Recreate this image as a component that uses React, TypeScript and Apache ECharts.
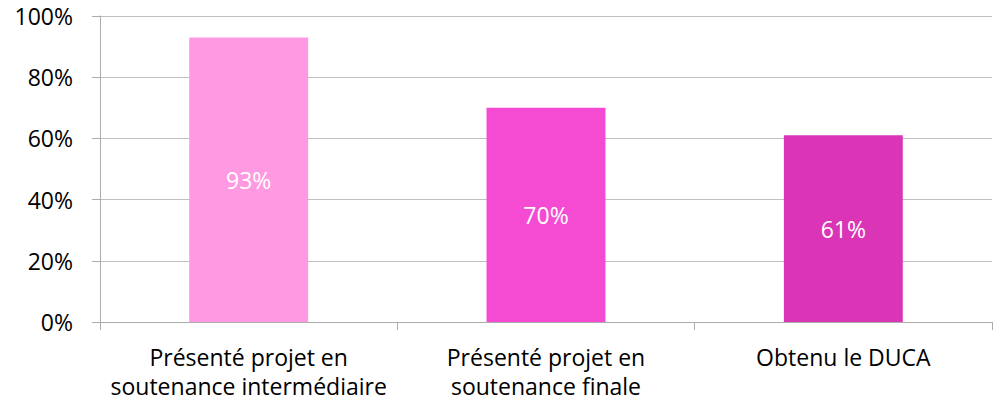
import React, { useEffect, useRef } from "react";
import * as echarts from "echarts";

const categories = [
  "Présenté projet en\nsoutenance intermédiaire",
  "Présenté projet en\nsoutenance finale",
  "Obtenu le DUCA",
];
const values = [93, 70, 61];
const barColors = ["#FF99E1", "#F54BD2", "#DA35B7"];
const yTicks = [0, 20, 40, 60, 80, 100];

export default function App() {
  const ref = useRef<HTMLDivElement>(null);
  useEffect(() => {
    if (!ref.current) return;
    const chart = echarts.init(ref.current, undefined, { renderer: "svg" });
    const font = "Open Sans, Liberation Sans, sans-serif";
    chart.setOption({
      animation: false,
      grid: { left: 100, right: 2, top: 16, bottom: 81 },
      xAxis: {
        type: "category",
        data: categories,
        axisLine: { lineStyle: { color: "#ABABAB" } },
        axisTick: { show: true, length: 8, lineStyle: { color: "#ABABAB" } },
        axisLabel: {
          color: "#000",
          fontSize: 23,
          fontFamily: font,
          margin: 20,
          lineHeight: 29,
          interval: 0,
        },
      },
      yAxis: {
        type: "value",
        min: yTicks[0],
        max: yTicks[yTicks.length - 1],
        interval: 20,
        axisLine: { show: true, lineStyle: { color: "#ABABAB" } },
        axisTick: { show: true, length: 8, lineStyle: { color: "#ABABAB" } },
        splitLine: { lineStyle: { color: "#BFBFBF" } },
        axisLabel: {
          color: "#000",
          fontSize: 23,
          fontFamily: font,
          margin: 27,
          formatter: (v: number) => v + "%",
        },
      },
      series: [
        {
          type: "bar",
          barWidth: "40%",
          data: values.map((v, i) => ({ value: v, itemStyle: { color: barColors[i] } })),
          label: {
            show: true,
            position: "inside",
            color: "#FFFFFF",
            fontSize: 23,
            fontFamily: font,
            formatter: (p: any) => p.value + "%",
          },
        },
      ],
    });
    return () => chart.dispose();
  }, []);
  return (
    <div
      ref={ref}
      style={{ position: "fixed", left: 0, top: 0, width: 994, height: 403, background: "#fff" }}
    />
  );
}
